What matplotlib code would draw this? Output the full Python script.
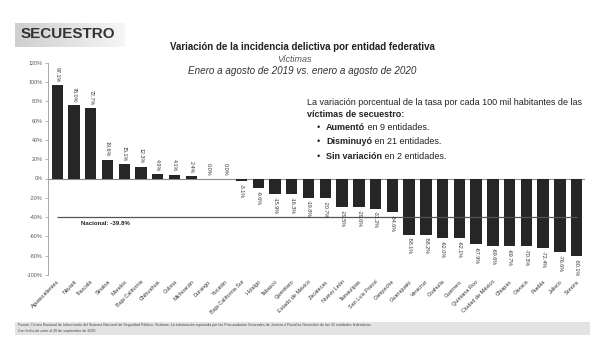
import numpy as np
import matplotlib
matplotlib.use("Agg")
from matplotlib import pyplot as plt
from matplotlib.colors import LinearSegmentedColormap
from matplotlib.patches import Rectangle

plt.rcParams["font.family"] = ["Liberation Sans", "DejaVu Sans"]

estados = [
    "Aguascalientes", "Nayarit", "Tlaxcala", "Sinaloa", "Morelos",
    "Baja California", "Chihuahua", "Colima", "Michoacán", "Durango",
    "Yucatán", "Baja California Sur", "Hidalgo", "Tabasco", "Querétaro",
    "Estado de México", "Zacatecas", "Nuevo León", "Tamaulipas",
    "San Luis Potosí", "Campeche", "Guanajuato", "Veracruz", "Coahuila",
    "Guerrero", "Quintana Roo", "Ciudad de México", "Chiapas", "Oaxaca",
    "Puebla", "Jalisco", "Sonora",
]
variacion = [
    97.1, 76.0, 72.7, 19.6, 15.1, 12.3, 4.9, 4.1, 2.4, 0.0, 0.0,
    -3.1, -9.6, -15.9, -16.3, -19.8, -20.7, -29.5, -29.6, -31.2, -34.6,
    -58.1, -58.2, -62.0, -62.1, -67.9, -69.6, -69.7, -70.3, -72.4,
    -76.6, -80.1,
]
nacional = -39.8
y_ticks = [-100, -80, -60, -40, -20, 0, 20, 40, 60, 80, 100, 120]

W, H = 613, 339


def fx(px):
    return px / W


def fy(py):
    return 1 - py / H


fig = plt.figure(figsize=(W / 100, H / 100), dpi=100)
fig.patch.set_facecolor("white")

# Header block with a grey-to-white fade
hdr = fig.add_axes([fx(15), fy(47), 110 / W, 24 / H], zorder=0)
fade = LinearSegmentedColormap.from_list("fade", ["#cfcfcf", "#e2e2e2", "#f6f6f6"])
hdr.imshow(np.linspace(0, 1, 100)[None, :], aspect="auto", cmap=fade)
hdr.axis("off")
fig.text(fx(21), fy(34), "SECUESTRO", fontsize=11, fontweight="bold",
         color="#333333", va="center", ha="left", zorder=5)

fig.text(fx(302), fy(47),
         "Variación de la incidencia delictiva por entidad federativa",
         fontsize=7, fontweight="bold", ha="center", va="center", color="#222222")
fig.text(fx(294), fy(59), "Víctimas", fontsize=6.5, style="italic",
         ha="center", va="center", color="#555555")
fig.text(fx(302), fy(71),
         "Enero a agosto de 2019 vs. enero a agosto de 2020",
         fontsize=7.1, style="italic", ha="center", va="center", color="#333333")

# Summary text on the right
fs = 6.5
fig.text(fx(307), fy(103),
         "La variación porcentual de la tasa por cada 100 mil habitantes de las",
         fontsize=fs, ha="left", va="center", color="#222222")
fig.text(fx(307), fy(114), "víctimas de secuestro:", fontsize=fs,
         fontweight="bold", ha="left", va="center", color="#222222")
bullets = [
    ("Aumentó", " en 9 entidades."),
    ("Disminuyó", " en 21 entidades."),
    ("Sin variación", " en 2 entidades."),
]
fig.canvas.draw()
renderer = fig.canvas.get_renderer()
for i, (bold, rest) in enumerate(bullets):
    y = fy(127 + i * 14.5)
    fig.text(fx(317), y, "•", fontsize=fs, ha="left", va="center", color="#222222")
    t = fig.text(fx(326), y, bold, fontsize=fs, fontweight="bold",
                 ha="left", va="center", color="#222222")
    bb = t.get_window_extent(renderer)
    fig.text(bb.x1 / fig.bbox.width, y, rest, fontsize=fs, ha="left",
             va="center", color="#222222")

# Bars
ax = fig.add_axes([fx(48), fy(275), 537 / W, (275 - 62.7) / H])
x = np.arange(len(estados))
ax.bar(x, variacion, width=0.68, color="#262626", zorder=2)
ax.axhline(0, color="#8c8c8c", linewidth=0.8, zorder=1)
ax.hlines(nacional, 0.0, len(estados) - 1, color="#555555", linewidth=0.9, zorder=3)
ax.text(1.4, nacional - 7, f"Nacional: {nacional:.1f}%", fontsize=4.4,
        fontweight="bold", ha="left", va="center", color="#222222")

for xi, v in zip(x, variacion):
    label = f"{v:.1f}%"
    if v >= 0:
        ax.annotate(label, (xi, v), xytext=(0, 2), textcoords="offset points",
                    rotation=270, ha="center", va="bottom", fontsize=3.9,
                    color="#333333")
    else:
        ax.annotate(label, (xi, v), xytext=(0, -2), textcoords="offset points",
                    rotation=270, ha="center", va="top", fontsize=3.9,
                    color="#333333")

ax.set_xlim(-0.55, len(estados) - 0.5)
ax.set_ylim(-100, 120)
ax.set_yticks(y_ticks)
ax.set_yticklabels([f"{t}%" for t in y_ticks], fontsize=3.9, color="#555555")
ax.set_xticks(x)
ax.set_xticklabels(estados, rotation=45, ha="right", rotation_mode="anchor",
                   fontsize=4.0, color="#333333")
ax.tick_params(axis="x", length=0, pad=3)
ax.tick_params(axis="y", length=2, width=0.5, color="#999999", pad=2)
for side in ["top", "right", "bottom"]:
    ax.spines[side].set_visible(False)
ax.spines["left"].set_color("#999999")
ax.spines["left"].set_linewidth(0.6)
ax.set_facecolor("none")

# Source footer
fig.patches.append(Rectangle((fx(15), fy(335)), 575 / W, 13 / H,
                             transform=fig.transFigure, facecolor="#e3e3e3",
                             edgecolor="none", zorder=0))
fig.text(fx(18), fy(325),
         "Fuente: Centro Nacional de Información del Sistema Nacional de Seguridad Pública. "
         "Víctimas: La información reportada por las Procuradurías Generales de Justicia "
         "o Fiscalías Generales de las 32 entidades federativas.",
         fontsize=2.6, ha="left", va="center", color="#444444")
fig.text(fx(18), fy(331),
         "Con fecha de corte al 20 de septiembre de 2020.",
         fontsize=2.6, ha="left", va="center", color="#444444")

fig.savefig("out.png", dpi=100)
